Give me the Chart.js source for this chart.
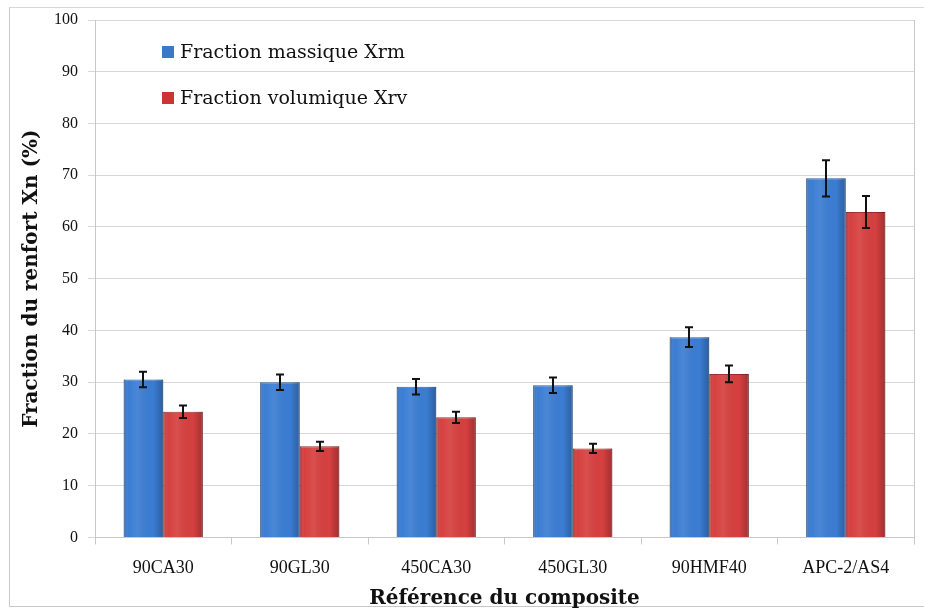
<!DOCTYPE html>
<html>
<head>
<meta charset="utf-8">
<script src="https://cdn.jsdelivr.net/npm/chart.js@4.4.1/dist/chart.umd.min.js"></script>
<style>
  html, body { margin: 0; padding: 0; background: #fff; }
  #wrap { position: relative; width: 925px; height: 610px; }
  #frame { position: absolute; left: 9px; top: 7px; width: 915px; height: 600px; border-left: 1px solid #c8c8c8; border-top: 1px solid #d8d8d8; border-bottom: 1px solid #c8c8c8; box-sizing: border-box; }
  canvas { position: relative; }
</style>
</head>
<body>
<div id="wrap">
  <div id="frame"></div>
  <canvas id="chart" width="925" height="610"></canvas>
</div>
<script>
// Data
const categories = ['90CA30', '90GL30', '450CA30', '450GL30', '90HMF40', 'APC-2/AS4'];
const massValues = [30.5, 30.0, 29.1, 29.4, 38.7, 69.4];
const massErrors = [1.5, 1.5, 1.5, 1.5, 1.9, 3.5];
const volValues = [24.3, 17.6, 23.2, 17.2, 31.6, 62.9];
const volErrors = [1.2, 0.9, 1.1, 0.9, 1.6, 3.1];
const yTicks = [0, 10, 20, 30, 40, 50, 60, 70, 80, 90, 100];

const TICK_FONT = '"Liberation Serif", serif';
const TITLE_FONT = '"DejaVu Serif", serif';

// shading on bars (light centre, dark edges)
const barShade = {
    id: 'barShade',
    afterDatasetsDraw(chart) {
        const ctx = chart.ctx;
        chart.data.datasets.forEach((ds, i) => {
            const meta = chart.getDatasetMeta(i);
            meta.data.forEach(bar => {
                const p = bar.getProps(['x', 'y', 'base', 'width'], true);
                const left = p.x - p.width / 2;
                const g = ctx.createLinearGradient(left, 0, left + p.width, 0);
                g.addColorStop(0, 'rgba(0,0,0,0.20)');
                g.addColorStop(0.12, 'rgba(255,255,255,0.0)');
                g.addColorStop(0.35, 'rgba(255,255,255,0.08)');
                g.addColorStop(0.75, 'rgba(0,0,0,0.0)');
                g.addColorStop(1, 'rgba(0,0,0,0.25)');
                ctx.save();
                ctx.fillStyle = g;
                ctx.fillRect(left, p.y, p.width, p.base - p.y);
                ctx.restore();
            });
        });
    }
};

// error bars from the dataset's errors array
const errorBars = {
    id: 'errorBars',
    afterDatasetsDraw(chart) {
        const ctx = chart.ctx;
        const yScale = chart.scales.y;
        chart.data.datasets.forEach((ds, i) => {
            const meta = chart.getDatasetMeta(i);
            meta.data.forEach((bar, j) => {
                const v = ds.data[j], e = ds.errors[j];
                const yTop = yScale.getPixelForValue(v + e);
                const yBot = yScale.getPixelForValue(v - e);
                const x = Math.round(bar.x);
                ctx.save();
                ctx.strokeStyle = '#111';
                ctx.lineWidth = 2;
                ctx.beginPath();
                ctx.moveTo(x, yTop); ctx.lineTo(x, yBot);
                ctx.moveTo(x - 4, yTop); ctx.lineTo(x + 4, yTop);
                ctx.moveTo(x - 4, yBot); ctx.lineTo(x + 4, yBot);
                ctx.stroke();
                ctx.restore();
            });
        });
    }
};

// legend drawn inside the plot, top-left
const innerLegend = {
    id: 'innerLegend',
    afterDraw(chart) {
        const ctx = chart.ctx;
        const x0 = 162, rows = [52, 98];
        ctx.save();
        ctx.font = '19px ' + TITLE_FONT;
        ctx.textBaseline = 'middle';
        chart.data.datasets.forEach((ds, i) => {
            const y = rows[i];
            ctx.fillStyle = ds.legendColor;
            ctx.fillRect(x0, y - 6, 12, 12);
            ctx.fillStyle = '#111';
            ctx.fillText(ds.label, x0 + 18, y + 1);
        });
        ctx.restore();
    }
};

new Chart(document.getElementById('chart'), {
    type: 'bar',
    data: {
        labels: categories,
        datasets: [
            {
                label: 'Fraction massique Xrm',
                data: massValues,
                errors: massErrors,
                backgroundColor: '#3b7dd3',
                borderColor: '#2c5f9e',
                borderWidth: 1,
                legendColor: '#3a78c8',
                barPercentage: 1.0,
                categoryPercentage: 0.58
            },
            {
                label: 'Fraction volumique Xrv',
                data: volValues,
                errors: volErrors,
                backgroundColor: '#d64040',
                borderColor: '#9c2a2a',
                borderWidth: 1,
                legendColor: '#cc3434',
                barPercentage: 1.0,
                categoryPercentage: 0.58
            }
        ]
    },
    options: {
        responsive: false,
        animation: false,
        layout: { padding: { left: 20, right: 11, top: 20, bottom: -1 } },
        plugins: {
            legend: { display: false },
            tooltip: { enabled: false }
        },
        scales: {
            x: {
                grid: { display: true, drawOnChartArea: false, offset: true, color: '#c8c8c8', tickLength: 7 },
                border: { color: '#c8c8c8' },
                ticks: { color: '#111', font: { family: TICK_FONT, size: 18 }, padding: 13 },
                title: { display: true, text: 'Référence du composite', color: '#111', font: { family: TITLE_FONT, size: 20, weight: 'bold' }, padding: { top: -5, bottom: 0 } }
            },
            y: {
                min: 0,
                max: 100,
                afterBuildTicks(scale) { scale.ticks = yTicks.map(v => ({ value: v })); },
                grid: { color: '#d8d8d8', tickLength: 7 },
                border: { color: '#c8c8c8' },
                ticks: { color: '#111', font: { family: TICK_FONT, size: 16 }, padding: 10 },
                title: { display: true, text: 'Fraction du renfort Xn (%)', color: '#111', font: { family: TITLE_FONT, size: 20, weight: 'bold' }, padding: { top: 0, bottom: 0 } }
            }
        }
    },
    plugins: [barShade, errorBars, innerLegend, {
        id: 'rightEdge',
        afterDraw(chart) {
            const a = chart.chartArea, ctx = chart.ctx;
            ctx.save();
            ctx.strokeStyle = '#c8c8c8';
            ctx.lineWidth = 1;
            ctx.beginPath();
            ctx.moveTo(a.right + 0.5, a.top); ctx.lineTo(a.right + 0.5, a.bottom + 7);
            ctx.stroke();
            ctx.restore();
        }
    }]
});
</script>
</body>
</html>
